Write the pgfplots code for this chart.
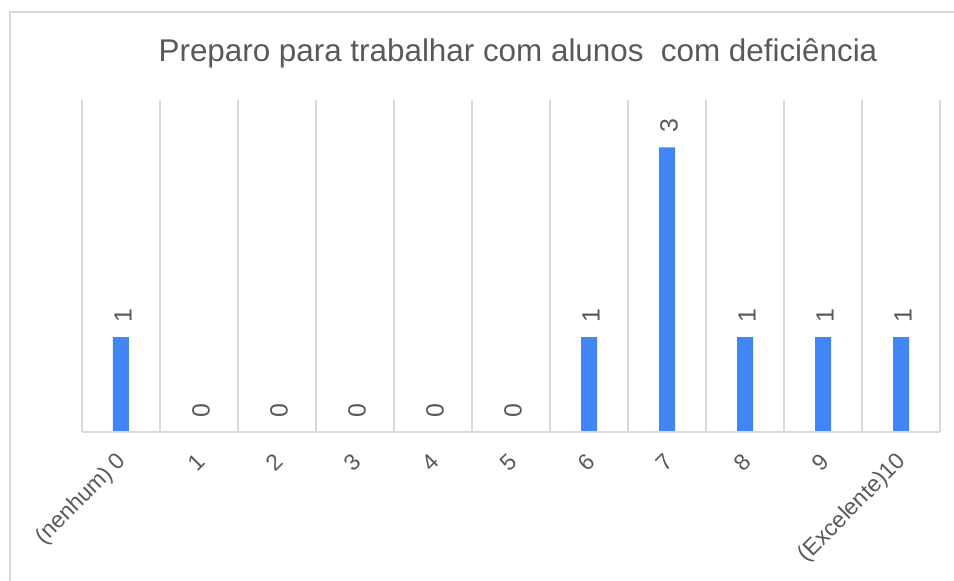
\documentclass[border=0pt]{standalone}
\usepackage{pgfplots}
\pgfplotsset{compat=1.18}
\usetikzlibrary{calc}
\usepackage{fontspec}
\setmainfont{Liberation Sans}
\definecolor{barblue}{HTML}{4285F4}
\definecolor{txtgray}{HTML}{595959}
\definecolor{gridgray}{HTML}{D9D9D9}
\begin{document}
\begin{tikzpicture}[x=1bp,y=1bp]
\begin{axis}[
  scale only axis,
  width=858bp, height=332bp,
  xmin=-0.5, xmax=10.5,
  ymin=0, ymax=3.5,
  axis line style={draw=none},
  ytick=\empty,
  xtick={0,...,10},
  xticklabels={(nenhum) 0,1,2,3,4,5,6,7,8,9,(Excelente)10},
  minor xtick={-0.5,0.5,...,10.5},
  xminorgrids=true,
  minor grid style={gridgray, line width=1.2pt},
  major tick length=0pt, minor tick length=0pt,
  xticklabel style={xshift=4bp, yshift=-24bp, rotate=45, anchor=east, inner sep=3pt, font=\fontsize{23}{25}\selectfont, text=txtgray},
  ybar, bar width=16bp,
  nodes near coords,
  every node near coord/.append style={xshift=2bp, yshift=11bp, rotate=90, anchor=west, font=\fontsize{25}{27}\selectfont, text=txtgray},
  /pgf/number format/assume math mode=true,
  clip=false,
]
\addplot[fill=barblue, draw=none] coordinates {(0,1) (1,0) (2,0) (3,0) (4,0) (5,0) (6,1) (7,3) (8,1) (9,1) (10,1)};
\draw[gridgray, line width=1.2pt] (rel axis cs:0,0) -- (rel axis cs:1,0);
\end{axis}
\pgfresetboundingbox
\useasboundingbox ($(current axis.south west)+(-82,-149)$) rectangle ($(current axis.north east)+(14,100)$);
\draw[gridgray, line width=1.5pt] ($(current axis.south west)+(-72,-149)$) -- ($(current axis.north west)+(-72,88)$) -- ($(current axis.north east)+(14,88)$);
\node[text=txtgray, font=\fontsize{31.5}{34}\selectfont] at ($(current axis.north)+(7,47)$) {Preparo para trabalhar com alunos\ \ com deficiência};
\end{tikzpicture}
\end{document}
